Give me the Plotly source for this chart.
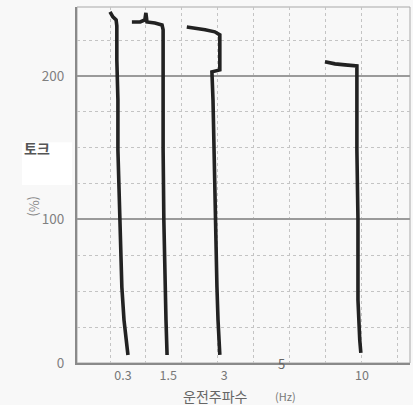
import plotly.graph_objects as go

# x positions are in grid units of the frequency axis (one dotted grid column = 1)
tick_pos = [0.36, 1.62, 3.18, 7.02]
tick_text = ["0.3", "1.5", "3", "10"]
five_pos = 4.79

c1_x = [0.00, 0.08, 0.17, 0.19, 0.19, 0.21, 0.22, 0.22, 0.24, 0.25, 0.28, 0.33, 0.39, 0.45, 0.50]
c1_y = [244.6, 241.1, 239.0, 234.8, 211.1, 195.0, 183.3, 148.4, 130.0, 113.6, 78.7, 52.9, 29.9, 16.0, 5.6]

c2_x = [0.61, 0.84, 0.97, 1.00, 1.03, 1.25, 1.45, 1.48, 1.48, 1.47, 1.48, 1.50, 1.53, 1.56, 1.59]
c2_y = [237.6, 237.6, 239.0, 243.9, 237.6, 236.9, 235.5, 232.1, 211.1, 180.0, 148.4, 99.7, 53.0, 30.0, 5.6]

c3_x = [2.14, 2.37, 2.65, 2.92, 3.06, 3.06, 2.84, 2.87, 2.90, 2.92, 2.98, 3.01, 3.06]
c3_y = [234.1, 233.4, 232.1, 230.7, 228.6, 204.2, 202.8, 183.3, 148.4, 99.7, 53.0, 30.0, 5.6]

c4_x = [5.99, 6.27, 6.55, 6.88, 6.88, 6.88, 6.91, 6.91, 6.96, 6.99]
c4_y = [209.8, 208.4, 207.7, 207.0, 200.7, 148.4, 99.7, 43.9, 16.0, 7.0]

curves = [(c1_x, c1_y), (c2_x, c2_y), (c3_x, c3_y), (c4_x, c4_y)]

fig = go.Figure()
for cx, cy in curves:
    fig.add_trace(go.Scatter(x=cx, y=cy, mode="lines",
                             line=dict(color="#222222", width=3.6),
                             showlegend=False, hoverinfo="skip"))
# invisible trace so the label axis is drawn
fig.add_trace(go.Scatter(x=tick_pos, y=[0]*len(tick_pos), xaxis="x2", mode="markers",
                         marker=dict(opacity=0), showlegend=False, hoverinfo="skip"))

bg = "#f8f8f8"
fnt = "Noto Sans CJK KR"
xr = [-0.92, 8.36]

fig.update_layout(
    width=413, height=405,
    margin=dict(l=77, r=3, t=7, b=42),
    paper_bgcolor=bg, plot_bgcolor=bg,
    font=dict(family=fnt, color="#777777", size=12),
    xaxis=dict(range=xr, tick0=0, dtick=1, showgrid=True, griddash="dot",
               gridcolor="#c4c4c4", gridwidth=1, showticklabels=False, ticks="",
               zeroline=False, showline=True, linewidth=2.2, linecolor="#8a8a8a"),
    xaxis2=dict(range=xr, overlaying="x", side="bottom", tickmode="array",
                tickvals=tick_pos, ticktext=tick_text, showgrid=False, zeroline=False,
                showline=False, ticks="", ticklabelstandoff=3,
                tickfont=dict(size=12.5, color="#777777")),
    yaxis=dict(range=[0, 248], tickmode="array", tickvals=[0, 100, 200],
               ticktext=["0", "100", "200"], showgrid=True, gridcolor="#9a9a9a",
               gridwidth=1.5, zeroline=False, showline=True, linewidth=2.2,
               linecolor="#8a8a8a", ticks="", ticklabelstandoff=8,
               tickfont=dict(size=13.5, color="#808080"),
               minor=dict(tick0=0, dtick=25, showgrid=True, griddash="dot",
                          gridcolor="#c4c4c4", gridwidth=1, ticks="")),
    shapes=[
        dict(type="rect", xref="x domain", yref="y domain", x0=0, x1=1, y0=0, y1=1,
             line=dict(color="#a8a8a8", width=1), layer="below"),
        dict(type="rect", xref="paper", yref="paper", x0=-0.165, x1=-0.015,
             y0=0.5, y1=0.62, fillcolor="#ffffff", line=dict(width=0), layer="below"),
    ],
    annotations=[
        dict(text="<b>토크</b>", xref="paper", yref="paper", x=-0.12, y=0.604,
             xanchor="center", yanchor="middle",
             showarrow=False, font=dict(size=14, color="#555555", family=fnt)),
        dict(text="(%)", xref="paper", yref="paper", x=-0.126, y=0.441, textangle=90,
             xanchor="center", yanchor="middle",
             showarrow=False, font=dict(size=13, color="#8a8a8a", family=fnt)),
        dict(text="운전주파수", xref="paper", yref="paper", x=0.417, y=-0.093,
             xanchor="center", yanchor="middle",
             showarrow=False, font=dict(size=14, color="#666666", family=fnt)),
        dict(text="(Hz)", xref="paper", yref="paper", x=0.625, y=-0.093,
             xanchor="center", yanchor="middle",
             showarrow=False, font=dict(size=11, color="#777777", family=fnt)),
        dict(text="5", xref="x", yref="y", x=five_pos, y=0, xanchor="center",
             yanchor="middle",
             showarrow=False, font=dict(size=13, color="#666666", family=fnt)),
    ],
)

fig.write_html("out.html", config={"displayModeBar": False},
               post_script="document.body.style.margin='0';")
